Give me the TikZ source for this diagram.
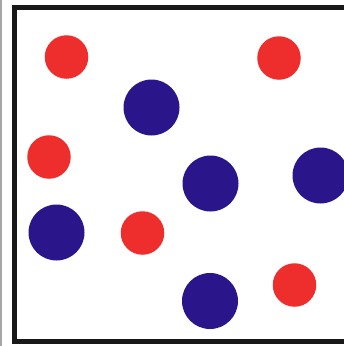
\documentclass[tikz,border=0pt]{standalone}
\definecolor{dotred}{RGB}{238,45,45}
\definecolor{dotblue}{RGB}{42,22,138}
\begin{document}
\begin{tikzpicture}[x=1pt,y=-1pt,
  reddot/.style={circle,fill=dotred,draw=none,inner sep=0pt,minimum size=43.5pt},
  bluedot/.style={circle,fill=dotblue,draw=none,inner sep=0pt,minimum size=56pt}]
\useasboundingbox (0,0) rectangle (344,346);
\fill[white] (0,0) rectangle (344,346);
\draw[gray!70,line width=1.5pt] (0.75,0) -- (0.75,346);
\draw[line width=5pt,color=black!90] (346,7.5) -- (14.5,7.5) -- (14.5,341.5) -- (346,341.5);
\node[reddot] (r1) at (66.5,57) {};
\node[reddot] (r2) at (279,58) {};
\node[reddot] (r3) at (49,157) {};
\node[reddot] (r4) at (142.5,233) {};
\node[reddot] (r5) at (294.5,285) {};
\node[bluedot] (b1) at (151.5,107.5) {};
\node[bluedot] (b2) at (210.5,183.5) {};
\node[bluedot] (b3) at (320.5,175.5) {};
\node[bluedot] (b4) at (56.5,232.5) {};
\node[bluedot] (b5) at (210,301) {};
\end{tikzpicture}
\end{document}
